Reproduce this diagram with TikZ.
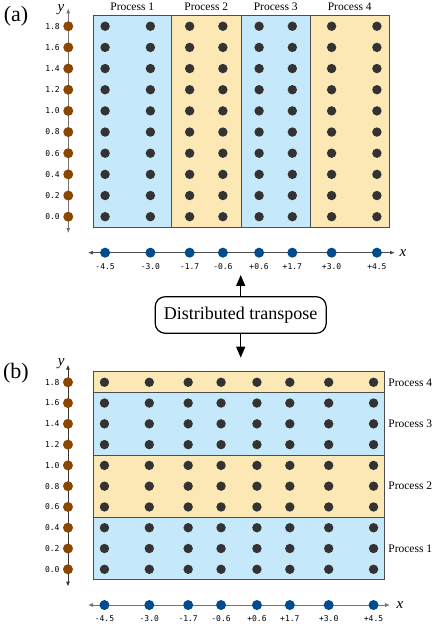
\documentclass[tikz,border=0pt]{standalone}
\usepackage{fontspec}
\setmainfont{Liberation Serif}
\setmonofont{DejaVu Sans Mono}
\usetikzlibrary{arrows.meta,positioning}
\definecolor{procblue}{RGB}{197,232,250}
\definecolor{procyellow}{RGB}{251,232,180}
\definecolor{ybrown}{RGB}{139,70,0}
\definecolor{xblue}{RGB}{0,76,140}
\definecolor{dotgray}{RGB}{51,51,51}
\tikzset{
   griddot/.style={fill=dotgray},
   ydot/.style={fill=ybrown},
   xdot/.style={fill=xblue},
   frame/.style={draw=black!70, line width=0.9pt},
   axisline/.style={line width=0.9pt, {Latex[length=5pt,width=4pt]}-{Latex[length=5pt,width=4pt]}},
   ticklabel/.style={font=\ttfamily\fontsize{8}{9}\selectfont, inner sep=0pt},
   proclabel/.style={font=\fontsize{11.5}{13}\selectfont, inner sep=0pt},
   axislabel/.style={font=\itshape\fontsize{15}{16}\selectfont, inner sep=0pt},
   panellabel/.style={font=\fontsize{22}{24}\selectfont, inner sep=0pt},
   transbox/.style={draw, rounded corners=10pt, line width=1.2pt, minimum width=171pt,
                    minimum height=36.6pt, font=\fontsize{18}{20}\selectfont},
   bigarrow/.style={line width=1.3pt, -{Triangle[length=11pt,width=9pt]}}
}

\begin{document}
\begin{tikzpicture}[x=1pt,y=1pt]
\useasboundingbox (0,0) rectangle (436,626);

% (a) split along x
\node[panellabel] (la) at (16,610) {(a)};
\begin{scope}[shift={(241pt,409.3pt)}, x=30.2pt, y=105.8pt]
\fill[procblue] (-4.9,-0.1) rectangle (-2.3,1.9);
\fill[procyellow] (-2.3,-0.1) rectangle (0,1.9);
\fill[procblue] (0,-0.1) rectangle (2.3,1.9);
\fill[procyellow] (2.3,-0.1) rectangle (4.9,1.9);
\draw[frame] (-4.9,-0.1) rectangle (4.9,1.9);
\foreach \C in {-2.3,0,2.3}{
	\draw[frame] (\C,-0.1) -- (\C,1.9);
}
\foreach \P/\X in {1/-3.6,2/-1.15,3/1.15,4/3.6}{
	\node[proclabel] (pa\P) at (\X,1.982) {Process \P};
}
\foreach \X in {-4.5,-3.0,-1.7,-0.6,0.6,1.7,3.0,4.5}{
	\foreach \Y in {0,0.2,0.4,0.6,0.8,1.0,1.2,1.4,1.6,1.8}{
		\fill[griddot] (\X,\Y) circle (4.7pt);
	}
}
\coordinate (yabot) at (-5.72,-0.155);
\coordinate (yatop) at (-5.72,1.97);
\draw[axisline, draw=black!55] (yabot) -- (yatop);
\node[axislabel] (yalab) at (-5.96,1.96) {y};
\foreach \I/\Y/\L in {0/0/0.0,1/0.2/0.2,2/0.4/0.4,3/0.6/0.6,4/0.8/0.8,5/1.0/1.0,6/1.2/1.2,7/1.4/1.4,8/1.6/1.6,9/1.8/1.8}{
	\fill[ydot] (-5.72,\Y) circle (5pt);
	\node[ticklabel, anchor=east] (ya\I) at ([xshift=-8.3pt]-5.72,\Y) {\L};
}
\coordinate (xaleft) at (-5.07,-0.34);
\coordinate (xaright) at (5.1,-0.34);
\draw[axisline, draw=black!70] (xaleft) -- (xaright);
\node[axislabel] (xalab) at (5.36,-0.34) {x};
\foreach \I/\X/\L in {1/-4.5/-4.5,2/-3.0/-3.0,3/-1.7/-1.7,4/-0.6/-0.6,5/0.6/+0.6,6/1.7/+1.7,7/3.0/+3.0,8/4.5/+4.5}{
	\fill[xdot] (\X,-0.34) circle (5pt);
	\node[ticklabel] (xa\I) at (\X,-0.4726) {\L};
}
\end{scope}

% the transpose between the two
\node[transbox] (tr) at (240.7,311) {Distributed transpose};
\coordinate (uptip) at (240.7,351);
\coordinate (downtip) at (240.7,268.3);
\draw[bigarrow] (tr.north) -- (uptip);
\draw[bigarrow] (tr.south) -- (downtip);

% (b) split along y
\node[panellabel] (lb) at (16,252.5) {(b)};
\begin{scope}[shift={(239pt,56.7pt)}, x=29.9pt, y=103.9pt]
\fill[procblue] (-4.87,-0.1) rectangle (4.87,0.5);
\fill[procyellow] (-4.87,0.5) rectangle (4.87,1.1);
\fill[procblue] (-4.87,1.1) rectangle (4.87,1.7);
\fill[procyellow] (-4.87,1.7) rectangle (4.87,1.9);
\draw[frame] (-4.87,-0.1) rectangle (4.87,1.9);
\foreach \R in {0.5,1.1,1.7}{
	\draw[frame] (-4.87,\R) -- (4.87,\R);
}
\foreach \P/\Y in {1/0.2,2/0.8,3/1.4,4/1.8}{
	\node[proclabel, anchor=west] (pb\P) at (4.99,\Y) {Process \P};
}
\foreach \X in {-4.5,-3.0,-1.7,-0.6,0.6,1.7,3.0,4.5}{
	\foreach \Y in {0,0.2,0.4,0.6,0.8,1.0,1.2,1.4,1.6,1.8}{
		\fill[griddot] (\X,\Y) circle (4.7pt);
	}
}
\coordinate (ybbot) at (-5.72,-0.167);
\coordinate (ybtop) at (-5.72,1.97);
\draw[axisline, draw=black!80] (ybbot) -- (ybtop);
\node[axislabel] (yblab) at (-5.95,1.98) {y};
\foreach \I/\Y/\L in {0/0/0.0,1/0.2/0.2,2/0.4/0.4,3/0.6/0.6,4/0.8/0.8,5/1.0/1.0,6/1.2/1.2,7/1.4/1.4,8/1.6/1.6,9/1.8/1.8}{
	\fill[ydot] (-5.72,\Y) circle (5pt);
	\node[ticklabel, anchor=east] (yb\I) at ([xshift=-8.3pt]-5.72,\Y) {\L};
}
\coordinate (xbleft) at (-5.05,-0.344);
\coordinate (xbright) at (5.05,-0.344);
\draw[axisline, draw=black!55] (xbleft) -- (xbright);
\node[axislabel] (xblab) at (5.38,-0.344) {x};
\foreach \I/\X/\L in {1/-4.5/-4.5,2/-3.0/-3.0,3/-1.7/-1.7,4/-0.6/-0.6,5/0.6/+0.6,6/1.7/+1.7,7/3.0/+3.0,8/4.5/+4.5}{
	\fill[xdot] (\X,-0.344) circle (5pt);
	\node[ticklabel] (xb\I) at (\X,-0.478) {\L};
}
\end{scope}
\end{tikzpicture}
\end{document}
